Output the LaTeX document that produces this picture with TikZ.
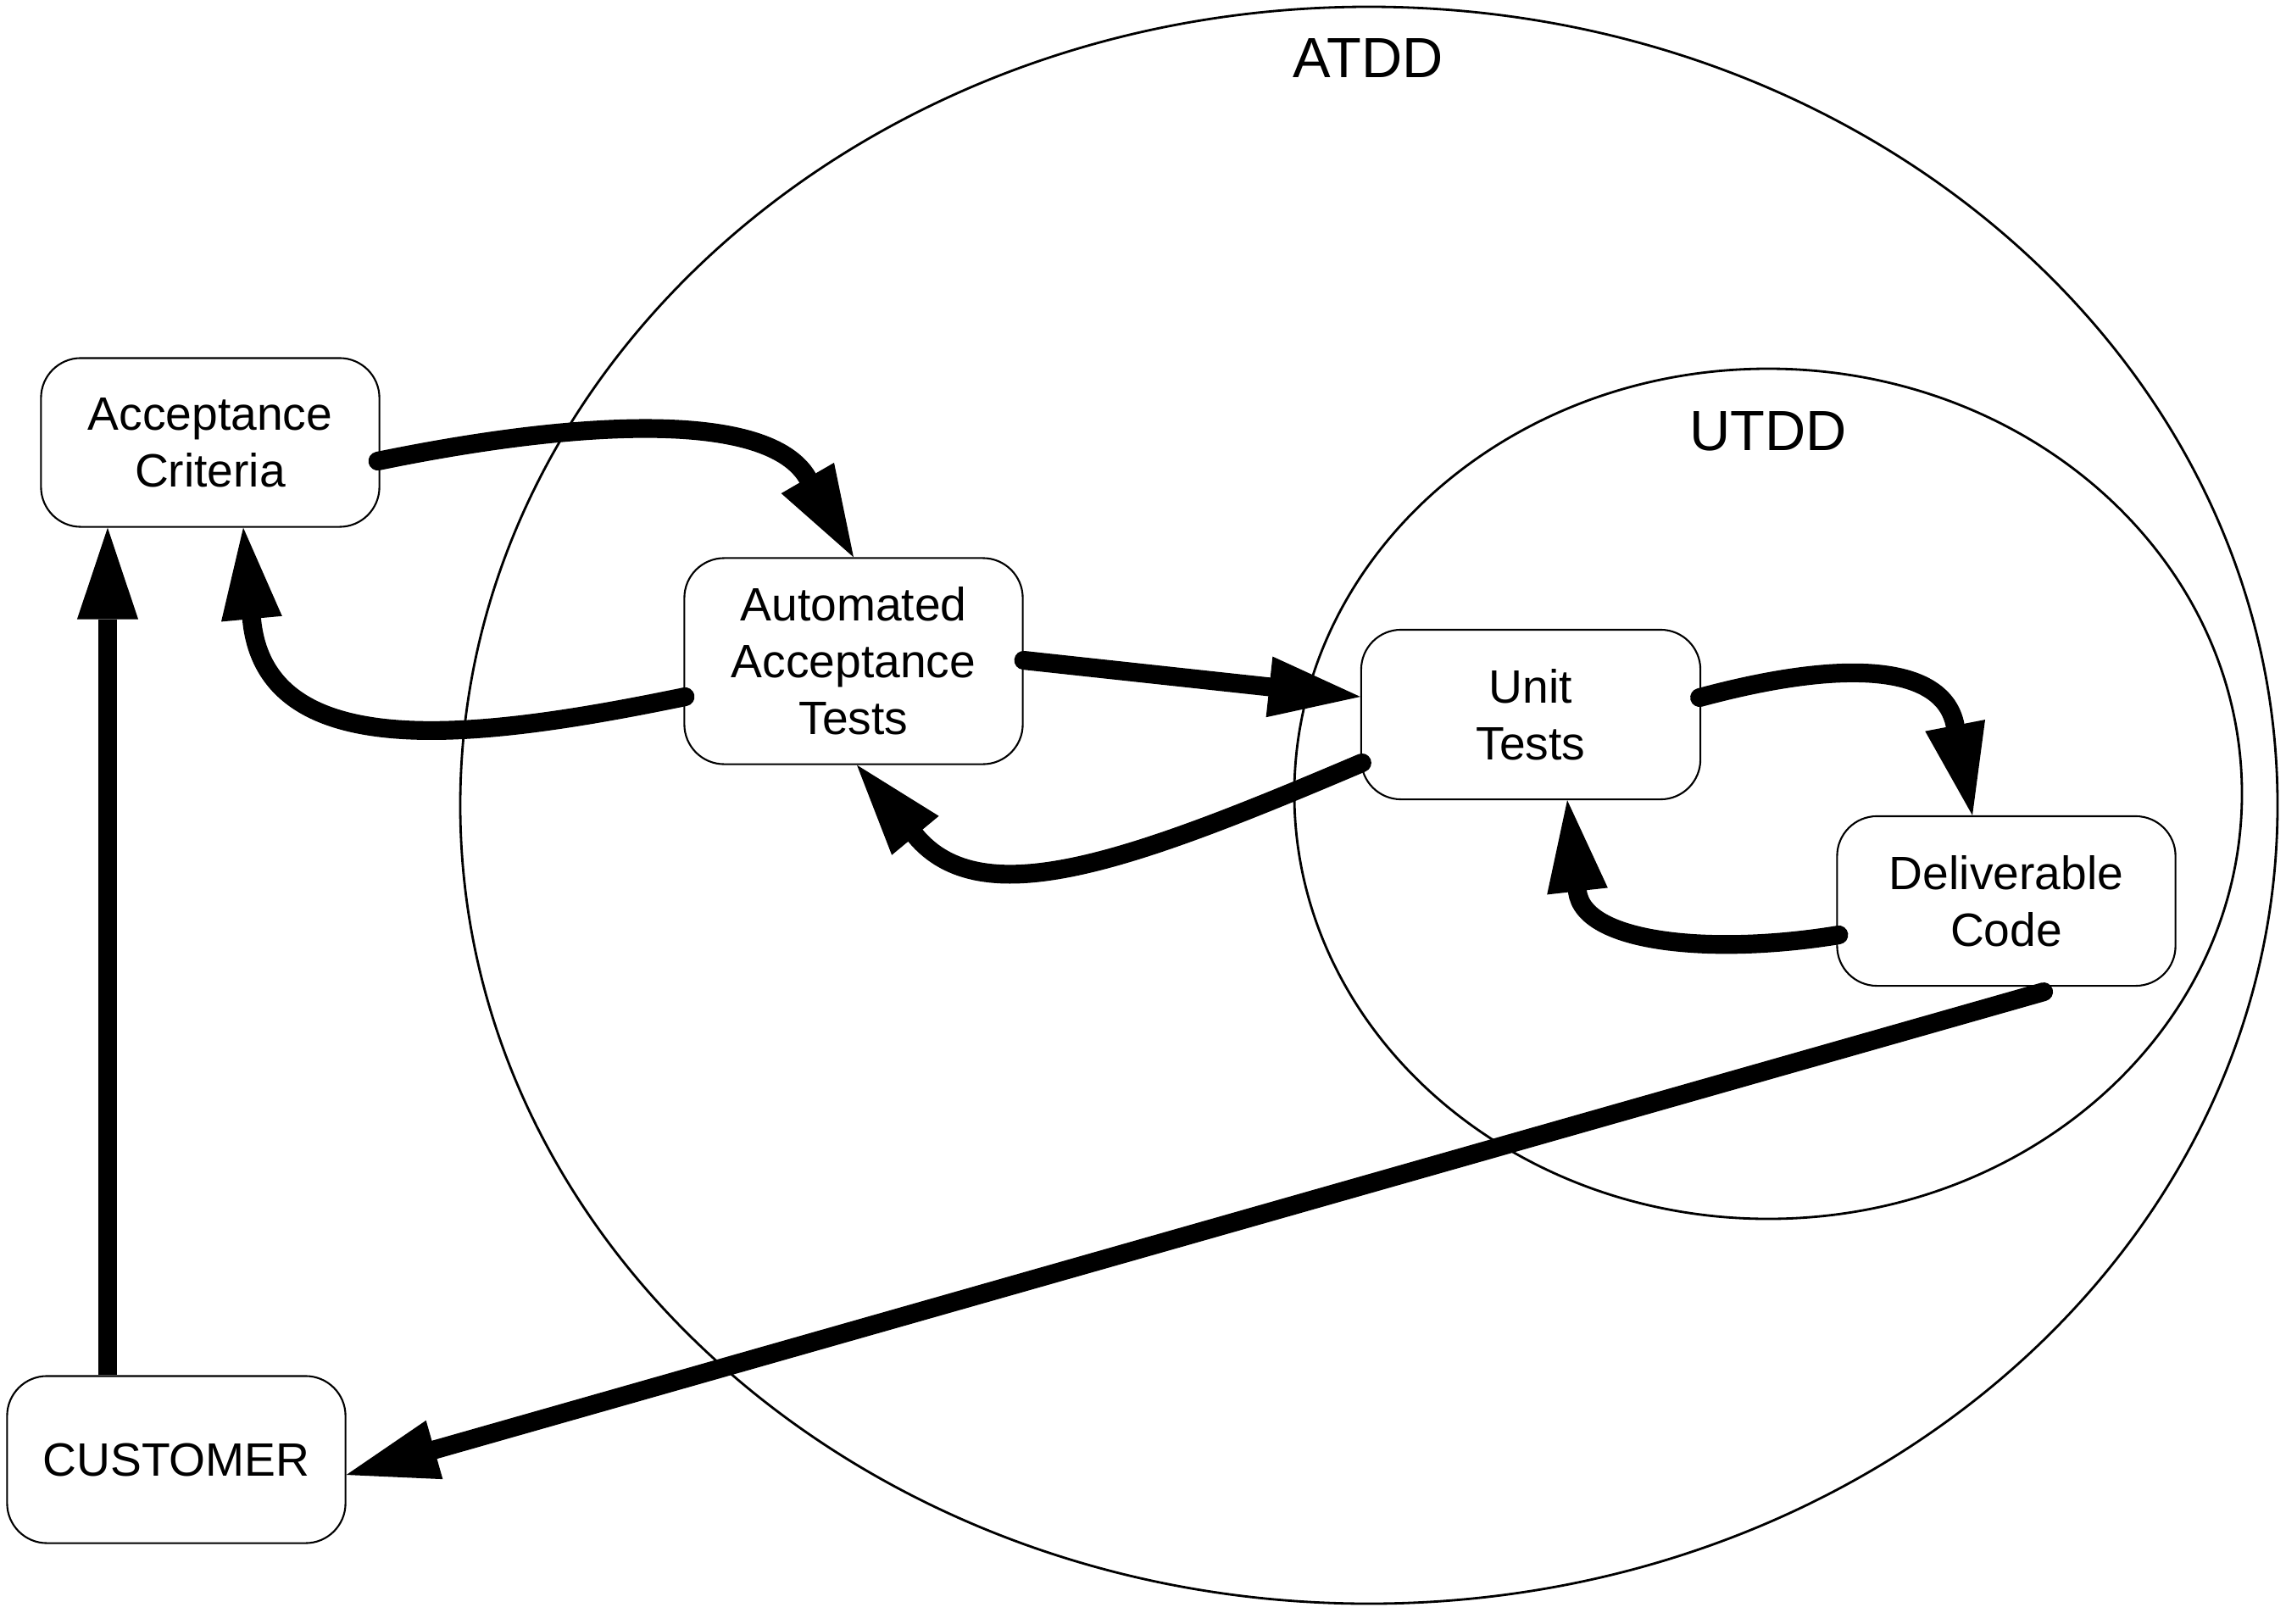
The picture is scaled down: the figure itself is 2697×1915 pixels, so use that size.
\documentclass[tikz,border=0pt]{standalone}
\usepackage{fontspec}
\setmainfont{Liberation Sans}
\usetikzlibrary{arrows.meta,calc}
\tikzset{
  box/.style={draw, line width=0.6pt, fill=white, rounded corners=0.47cm,
    minimum width=3.99cm, minimum height=1.99cm, inner sep=0pt, align=center,
    font=\fontsize{15.7}{19}\selectfont},
  ring/.style={draw, line width=0.8pt},
  ringlabel/.style={font=\fontsize{19}{22}\selectfont, inner sep=0pt},
  flow/.style={line width=6.3pt, line cap=round,
    -{Triangle[length=30.7pt, width=20.5pt, line width=0pt]}},
}
\begin{document}
\begin{tikzpicture}[x=0.01cm, y=-0.01cm]
\useasboundingbox (0,0) rectangle (2697,1915);
% ellipses
\draw[ring] (1615,950) ellipse [x radius=1072, y radius=942];
\draw[ring] (2086,936.5) ellipse [x radius=559, y radius=501.5];
\node[ringlabel] (atdd) at (1614,69) {ATDD};
\node[ringlabel] (utdd) at (2086,509) {UTDD};
% boxes
\node[box] (ac) at (248,522) {Acceptance\\Criteria};
\node[box, minimum height=2.43cm] (aat) at (1007,780) {Automated\\Acceptance\\Tests};
\node[box, minimum width=4.0cm, minimum height=2.0cm] (ut) at (1806,843) {Unit\\Tests};
\node[box, minimum height=2.0cm] (dc) at (2367,1063) {Deliverable\\Code};
\node[box, minimum height=1.97cm] (cust) at (208,1722) {CUSTOMER};
% connectors
\draw[flow] ($(ac.east)+(-3,22)$) .. controls (689,494) and (907,485) .. (aat.north);
\draw[flow] ($(aat.west)+(2,42)$) .. controls (565,872) and (313,905) .. ($(ac.south)+(39,0)$);
\draw[flow] ($(aat.east)+(0,-1)$) -- ($(ut.west)+(0,-21)$);
\draw[flow] ($(ut.west)+(2,57)$) .. controls (1332,1017) and (1158,1080) .. ($(aat.south)+(4,0)$);
\draw[flow] ($(ut.east)+(-2,-20)$) .. controls (2179,776) and (2293,785) .. ($(dc.north)+(-40,0)$);
\draw[flow] ($(dc.west)+(3,40)$) .. controls (2024,1127) and (1868,1114) .. ($(ut.south)+(43,0)$);
\draw[flow] ($(dc.south)+(44,6)$) -- ($(cust.east)+(0,18)$);
\draw[flow, line cap=butt] ($(cust.north)+(-81,0)$) -- ($(ac.south)+(-121,0)$);
\end{tikzpicture}
\end{document}
